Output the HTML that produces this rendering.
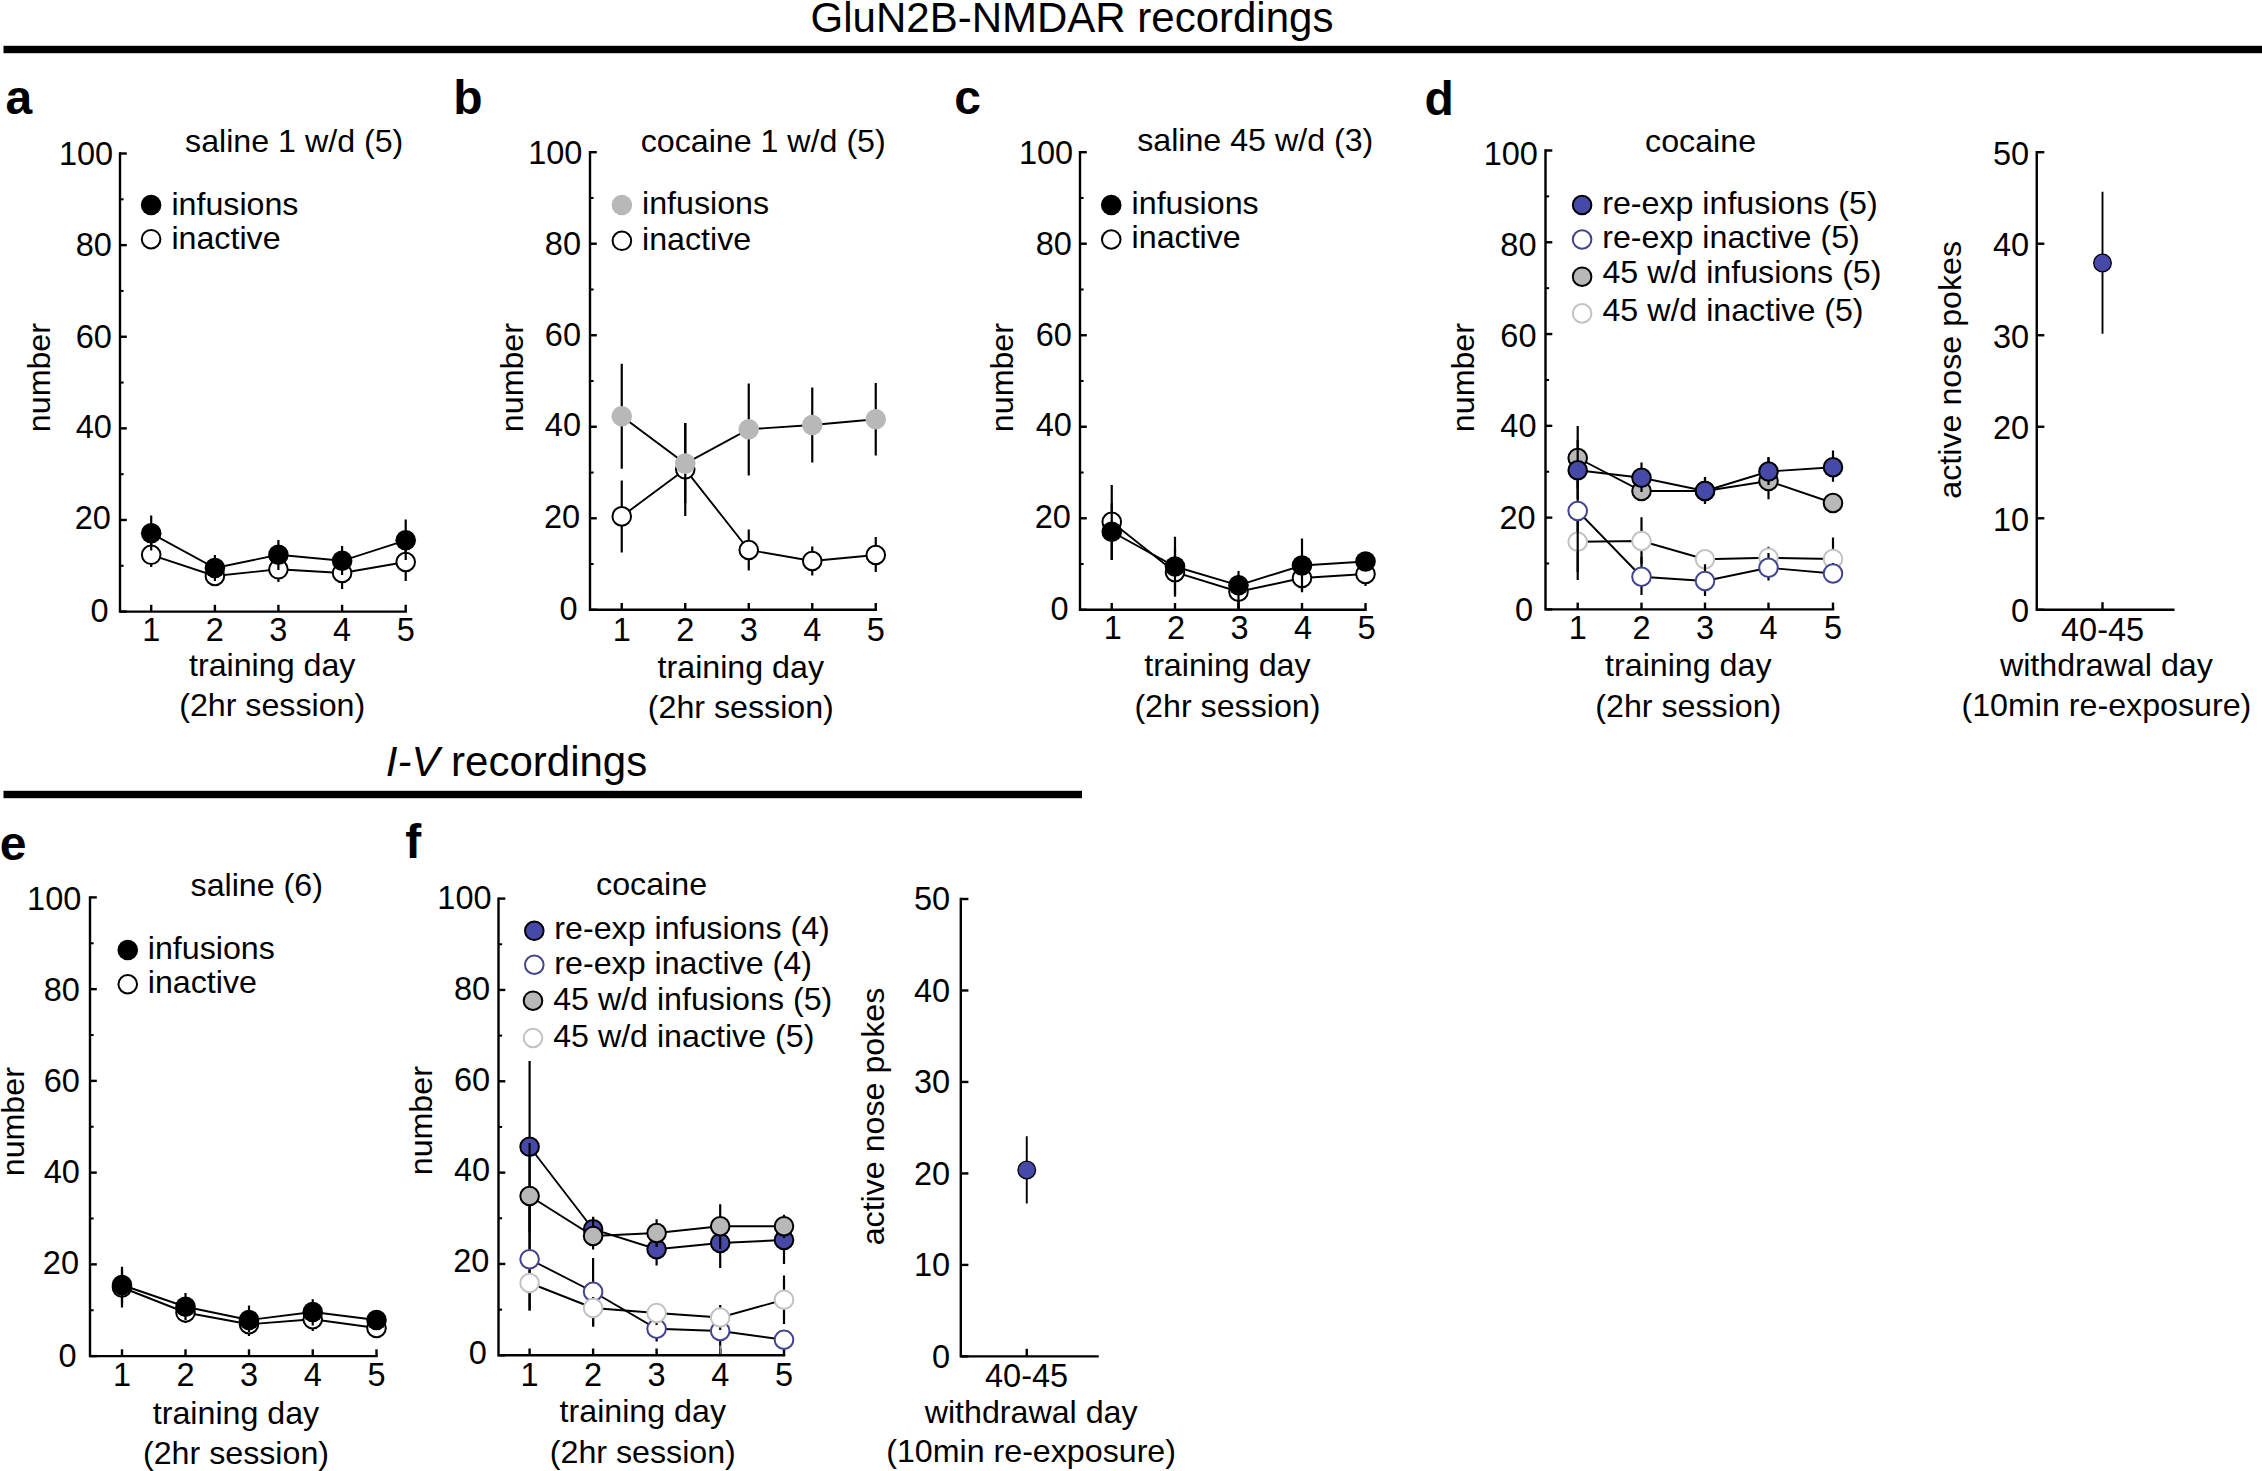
<!DOCTYPE html>
<html lang="en">
<head>
<meta charset="utf-8">
<title>Self-administration training data</title>
<style>
html,body{margin:0;padding:0;background:#fff;}
body{width:2262px;height:1471px;overflow:hidden;font-family:"Liberation Sans",Arial,Helvetica,sans-serif;}
svg{display:block;}
text{white-space:pre;}
</style>
</head>
<body>
<svg width="2262" height="1471" viewBox="0 0 2262 1471" font-family="'Liberation Sans', Arial, Helvetica, sans-serif" font-size="32.2" fill="#000">
<rect width="2262" height="1471" fill="#fff"/>
<text x="1072" y="31.5" text-anchor="middle" font-size="42">GluN2B-NMDAR recordings</text>
<rect x="3.5" y="45.8" width="2258.5" height="7.4" fill="#000"/>
<text x="516.5" y="776" font-size="42" text-anchor="middle"><tspan font-style="italic">I-V</tspan> recordings</text>
<rect x="3.5" y="790.8" width="1078.5" height="7.4" fill="#000"/>
<text x="5.6" y="114.3" font-size="48" font-weight="bold">a</text>
<text x="294.2" y="151.85" text-anchor="middle">saline 1 w/d (5)</text>
<text text-anchor="middle" transform="translate(50 377.6) rotate(-90)">number</text>
<path d="M120 152.3 V611.6 H406.9" fill="none" stroke="#000" stroke-width="2.4" stroke-linejoin="miter"/>
<line x1="120" y1="611.6" x2="126.8" y2="611.6" stroke="#000" stroke-width="2.4"/>
<text x="108.5" y="621.74" text-anchor="end" font-size="32.5">0</text>
<line x1="120" y1="519.98" x2="126.8" y2="519.98" stroke="#000" stroke-width="2.4"/>
<text x="110.9" y="529.32" text-anchor="end" font-size="32.5">20</text>
<line x1="120" y1="428.36" x2="126.8" y2="428.36" stroke="#000" stroke-width="2.4"/>
<text x="111.8" y="437.8" text-anchor="end" font-size="32.5">40</text>
<line x1="120" y1="336.74" x2="126.8" y2="336.74" stroke="#000" stroke-width="2.4"/>
<text x="111.8" y="347.57" text-anchor="end" font-size="32.5">60</text>
<line x1="120" y1="245.12" x2="126.8" y2="245.12" stroke="#000" stroke-width="2.4"/>
<text x="111.8" y="256.25" text-anchor="end" font-size="32.5">80</text>
<line x1="120" y1="153.5" x2="126.8" y2="153.5" stroke="#000" stroke-width="2.4"/>
<text x="113.2" y="165.23" text-anchor="end" font-size="32.5">100</text>
<line x1="120" y1="565.79" x2="123.6" y2="565.79" stroke="#000" stroke-width="2.04"/>
<line x1="120" y1="474.17" x2="123.6" y2="474.17" stroke="#000" stroke-width="2.04"/>
<line x1="120" y1="382.55" x2="123.6" y2="382.55" stroke="#000" stroke-width="2.04"/>
<line x1="120" y1="290.93" x2="123.6" y2="290.93" stroke="#000" stroke-width="2.04"/>
<line x1="120" y1="199.31" x2="123.6" y2="199.31" stroke="#000" stroke-width="2.04"/>
<line x1="151.2" y1="611.6" x2="151.2" y2="604.8" stroke="#000" stroke-width="2.4"/>
<line x1="214.9" y1="611.6" x2="214.9" y2="604.8" stroke="#000" stroke-width="2.4"/>
<line x1="278.4" y1="611.6" x2="278.4" y2="604.8" stroke="#000" stroke-width="2.4"/>
<line x1="342.1" y1="611.6" x2="342.1" y2="604.8" stroke="#000" stroke-width="2.4"/>
<line x1="405.7" y1="611.6" x2="405.7" y2="604.8" stroke="#000" stroke-width="2.4"/>
<text x="151.2" y="641" text-anchor="middle" font-size="32.5">1</text>
<text x="214.9" y="641" text-anchor="middle" font-size="32.5">2</text>
<text x="278.4" y="641" text-anchor="middle" font-size="32.5">3</text>
<text x="342.1" y="641" text-anchor="middle" font-size="32.5">4</text>
<text x="405.7" y="641" text-anchor="middle" font-size="32.5">5</text>
<polyline points="151.2,554.8 214.9,576 278.4,569.3 342.1,573 405.7,562" fill="none" stroke="#000" stroke-width="1.9"/>
<line x1="151.2" y1="538" x2="151.2" y2="567" stroke="#000" stroke-width="2.2"/>
<line x1="214.9" y1="560" x2="214.9" y2="583" stroke="#000" stroke-width="2.2"/>
<line x1="278.4" y1="553" x2="278.4" y2="582" stroke="#000" stroke-width="2.2"/>
<line x1="342.1" y1="556" x2="342.1" y2="589" stroke="#000" stroke-width="2.2"/>
<line x1="405.7" y1="545" x2="405.7" y2="581" stroke="#000" stroke-width="2.2"/>
<circle cx="151.2" cy="554.8" r="9.3" fill="#fff" stroke="#000" stroke-width="2"/>
<circle cx="214.9" cy="576" r="9.3" fill="#fff" stroke="#000" stroke-width="2"/>
<circle cx="278.4" cy="569.3" r="9.3" fill="#fff" stroke="#000" stroke-width="2"/>
<circle cx="342.1" cy="573" r="9.3" fill="#fff" stroke="#000" stroke-width="2"/>
<circle cx="405.7" cy="562" r="9.3" fill="#fff" stroke="#000" stroke-width="2"/>
<polyline points="151.2,533.3 214.9,568 278.4,554.8 342.1,560.8 405.7,540.3" fill="none" stroke="#000" stroke-width="1.9"/>
<line x1="151.2" y1="515.5" x2="151.2" y2="550.5" stroke="#000" stroke-width="2.2"/>
<line x1="214.9" y1="555" x2="214.9" y2="581" stroke="#000" stroke-width="2.2"/>
<line x1="278.4" y1="540" x2="278.4" y2="570" stroke="#000" stroke-width="2.2"/>
<line x1="342.1" y1="546" x2="342.1" y2="575" stroke="#000" stroke-width="2.2"/>
<line x1="405.7" y1="519.5" x2="405.7" y2="560" stroke="#000" stroke-width="2.2"/>
<circle cx="151.2" cy="533.3" r="10.3" fill="#000"/>
<circle cx="214.9" cy="568" r="10.3" fill="#000"/>
<circle cx="278.4" cy="554.8" r="10.3" fill="#000"/>
<circle cx="342.1" cy="560.8" r="10.3" fill="#000"/>
<circle cx="405.7" cy="540.3" r="10.3" fill="#000"/>
<circle cx="151.1" cy="205" r="10.3" fill="#000"/>
<text x="171.4" y="215">infusions</text>
<circle cx="151.1" cy="239.2" r="9.3" fill="#fff" stroke="#000" stroke-width="2"/>
<text x="171.4" y="249.3">inactive</text>
<text x="272.2" y="676.3" text-anchor="middle">training day</text>
<text x="272.2" y="715.5" text-anchor="middle">(2hr session)</text>
<text x="453.2" y="114.3" font-size="48" font-weight="bold">b</text>
<text x="763.2" y="151.7" text-anchor="middle">cocaine 1 w/d (5)</text>
<text text-anchor="middle" transform="translate(522.7 377.6) rotate(-90)">number</text>
<path d="M590 151 V609.8 H876.95" fill="none" stroke="#000" stroke-width="2.4" stroke-linejoin="miter"/>
<line x1="590" y1="609.8" x2="596.8" y2="609.8" stroke="#000" stroke-width="2.4"/>
<text x="577.7" y="619.93" text-anchor="end" font-size="32.5">0</text>
<line x1="590" y1="518.28" x2="596.8" y2="518.28" stroke="#000" stroke-width="2.4"/>
<text x="580.1" y="527.62" text-anchor="end" font-size="32.5">20</text>
<line x1="590" y1="426.76" x2="596.8" y2="426.76" stroke="#000" stroke-width="2.4"/>
<text x="581" y="436.19" text-anchor="end" font-size="32.5">40</text>
<line x1="590" y1="335.24" x2="596.8" y2="335.24" stroke="#000" stroke-width="2.4"/>
<text x="581" y="346.07" text-anchor="end" font-size="32.5">60</text>
<line x1="590" y1="243.72" x2="596.8" y2="243.72" stroke="#000" stroke-width="2.4"/>
<text x="581" y="254.85" text-anchor="end" font-size="32.5">80</text>
<line x1="590" y1="152.2" x2="596.8" y2="152.2" stroke="#000" stroke-width="2.4"/>
<text x="582.4" y="163.93" text-anchor="end" font-size="32.5">100</text>
<line x1="590" y1="564.04" x2="593.6" y2="564.04" stroke="#000" stroke-width="2.04"/>
<line x1="590" y1="472.52" x2="593.6" y2="472.52" stroke="#000" stroke-width="2.04"/>
<line x1="590" y1="381" x2="593.6" y2="381" stroke="#000" stroke-width="2.04"/>
<line x1="590" y1="289.48" x2="593.6" y2="289.48" stroke="#000" stroke-width="2.04"/>
<line x1="590" y1="197.96" x2="593.6" y2="197.96" stroke="#000" stroke-width="2.04"/>
<line x1="621.75" y1="609.8" x2="621.75" y2="603" stroke="#000" stroke-width="2.4"/>
<line x1="685.25" y1="609.8" x2="685.25" y2="603" stroke="#000" stroke-width="2.4"/>
<line x1="748.75" y1="609.8" x2="748.75" y2="603" stroke="#000" stroke-width="2.4"/>
<line x1="812.25" y1="609.8" x2="812.25" y2="603" stroke="#000" stroke-width="2.4"/>
<line x1="875.75" y1="609.8" x2="875.75" y2="603" stroke="#000" stroke-width="2.4"/>
<text x="621.75" y="640.6" text-anchor="middle" font-size="32.5">1</text>
<text x="685.25" y="640.6" text-anchor="middle" font-size="32.5">2</text>
<text x="748.75" y="640.6" text-anchor="middle" font-size="32.5">3</text>
<text x="812.25" y="640.6" text-anchor="middle" font-size="32.5">4</text>
<text x="875.75" y="640.6" text-anchor="middle" font-size="32.5">5</text>
<polyline points="621.75,516.4 685.25,469.3 748.75,550 812.25,561 875.75,555" fill="none" stroke="#000" stroke-width="1.9"/>
<line x1="621.75" y1="480.5" x2="621.75" y2="552.5" stroke="#000" stroke-width="2.2"/>
<line x1="685.25" y1="423" x2="685.25" y2="516" stroke="#000" stroke-width="2.2"/>
<line x1="748.75" y1="529.5" x2="748.75" y2="570.5" stroke="#000" stroke-width="2.2"/>
<line x1="812.25" y1="546.5" x2="812.25" y2="575.5" stroke="#000" stroke-width="2.2"/>
<line x1="875.75" y1="537" x2="875.75" y2="572" stroke="#000" stroke-width="2.2"/>
<circle cx="621.75" cy="516.4" r="9.3" fill="#fff" stroke="#000" stroke-width="2"/>
<circle cx="685.25" cy="469.3" r="9.3" fill="#fff" stroke="#000" stroke-width="2"/>
<circle cx="748.75" cy="550" r="9.3" fill="#fff" stroke="#000" stroke-width="2"/>
<circle cx="812.25" cy="561" r="9.3" fill="#fff" stroke="#000" stroke-width="2"/>
<circle cx="875.75" cy="555" r="9.3" fill="#fff" stroke="#000" stroke-width="2"/>
<polyline points="621.75,416.25 685.25,463.6 748.75,429.25 812.25,425 875.75,419.25" fill="none" stroke="#000" stroke-width="1.9"/>
<line x1="621.75" y1="363.75" x2="621.75" y2="468.75" stroke="#000" stroke-width="2.2"/>
<line x1="685.25" y1="423" x2="685.25" y2="503" stroke="#000" stroke-width="2.2"/>
<line x1="748.75" y1="383.5" x2="748.75" y2="475.5" stroke="#000" stroke-width="2.2"/>
<line x1="812.25" y1="387.5" x2="812.25" y2="462.5" stroke="#000" stroke-width="2.2"/>
<line x1="875.75" y1="383" x2="875.75" y2="455.5" stroke="#000" stroke-width="2.2"/>
<circle cx="621.75" cy="416.25" r="10.3" fill="#b8b8b8"/>
<circle cx="685.25" cy="463.6" r="10.3" fill="#b8b8b8"/>
<circle cx="748.75" cy="429.25" r="10.3" fill="#b8b8b8"/>
<circle cx="812.25" cy="425" r="10.3" fill="#b8b8b8"/>
<circle cx="875.75" cy="419.25" r="10.3" fill="#b8b8b8"/>
<circle cx="621.9" cy="205" r="10.3" fill="#b8b8b8"/>
<text x="642" y="214.3">infusions</text>
<circle cx="621.9" cy="240.8" r="9.3" fill="#fff" stroke="#000" stroke-width="2"/>
<text x="642" y="250.2">inactive</text>
<text x="740.8" y="678" text-anchor="middle">training day</text>
<text x="740.8" y="717.8" text-anchor="middle">(2hr session)</text>
<text x="954.2" y="114.3" font-size="48" font-weight="bold">c</text>
<text x="1255.25" y="151.25" text-anchor="middle">saline 45 w/d (3)</text>
<text text-anchor="middle" transform="translate(1012.7 377.6) rotate(-90)">number</text>
<path d="M1080 151 V609.8 H1366.7" fill="none" stroke="#000" stroke-width="2.4" stroke-linejoin="miter"/>
<line x1="1080" y1="609.8" x2="1086.8" y2="609.8" stroke="#000" stroke-width="2.4"/>
<text x="1068.5" y="619.93" text-anchor="end" font-size="32.5">0</text>
<line x1="1080" y1="518.28" x2="1086.8" y2="518.28" stroke="#000" stroke-width="2.4"/>
<text x="1070.9" y="527.62" text-anchor="end" font-size="32.5">20</text>
<line x1="1080" y1="426.76" x2="1086.8" y2="426.76" stroke="#000" stroke-width="2.4"/>
<text x="1071.8" y="436.19" text-anchor="end" font-size="32.5">40</text>
<line x1="1080" y1="335.24" x2="1086.8" y2="335.24" stroke="#000" stroke-width="2.4"/>
<text x="1071.8" y="346.07" text-anchor="end" font-size="32.5">60</text>
<line x1="1080" y1="243.72" x2="1086.8" y2="243.72" stroke="#000" stroke-width="2.4"/>
<text x="1071.8" y="254.85" text-anchor="end" font-size="32.5">80</text>
<line x1="1080" y1="152.2" x2="1086.8" y2="152.2" stroke="#000" stroke-width="2.4"/>
<text x="1073.2" y="163.93" text-anchor="end" font-size="32.5">100</text>
<line x1="1080" y1="564.04" x2="1083.6" y2="564.04" stroke="#000" stroke-width="2.04"/>
<line x1="1080" y1="472.52" x2="1083.6" y2="472.52" stroke="#000" stroke-width="2.04"/>
<line x1="1080" y1="381" x2="1083.6" y2="381" stroke="#000" stroke-width="2.04"/>
<line x1="1080" y1="289.48" x2="1083.6" y2="289.48" stroke="#000" stroke-width="2.04"/>
<line x1="1080" y1="197.96" x2="1083.6" y2="197.96" stroke="#000" stroke-width="2.04"/>
<line x1="1111.75" y1="609.8" x2="1111.75" y2="603" stroke="#000" stroke-width="2.4"/>
<line x1="1175" y1="609.8" x2="1175" y2="603" stroke="#000" stroke-width="2.4"/>
<line x1="1238.5" y1="609.8" x2="1238.5" y2="603" stroke="#000" stroke-width="2.4"/>
<line x1="1302" y1="609.8" x2="1302" y2="603" stroke="#000" stroke-width="2.4"/>
<line x1="1365.5" y1="609.8" x2="1365.5" y2="603" stroke="#000" stroke-width="2.4"/>
<text x="1112.85" y="639.2" text-anchor="middle" font-size="32.5">1</text>
<text x="1176.1" y="639.2" text-anchor="middle" font-size="32.5">2</text>
<text x="1239.6" y="639.2" text-anchor="middle" font-size="32.5">3</text>
<text x="1303.1" y="639.2" text-anchor="middle" font-size="32.5">4</text>
<text x="1366.6" y="639.2" text-anchor="middle" font-size="32.5">5</text>
<polyline points="1111.75,521.9 1175,572.25 1238.5,591.75 1302,578 1365.5,574" fill="none" stroke="#000" stroke-width="1.9"/>
<line x1="1111.75" y1="485" x2="1111.75" y2="560" stroke="#000" stroke-width="2.2"/>
<line x1="1175" y1="548" x2="1175" y2="596.7" stroke="#000" stroke-width="2.2"/>
<line x1="1238.5" y1="575" x2="1238.5" y2="608" stroke="#000" stroke-width="2.2"/>
<line x1="1302" y1="562" x2="1302" y2="592.25" stroke="#000" stroke-width="2.2"/>
<line x1="1365.5" y1="565" x2="1365.5" y2="586" stroke="#000" stroke-width="2.2"/>
<circle cx="1111.75" cy="521.9" r="9.3" fill="#fff" stroke="#000" stroke-width="2"/>
<circle cx="1175" cy="572.25" r="9.3" fill="#fff" stroke="#000" stroke-width="2"/>
<circle cx="1238.5" cy="591.75" r="9.3" fill="#fff" stroke="#000" stroke-width="2"/>
<circle cx="1302" cy="578" r="9.3" fill="#fff" stroke="#000" stroke-width="2"/>
<circle cx="1365.5" cy="574" r="9.3" fill="#fff" stroke="#000" stroke-width="2"/>
<polyline points="1111.75,531.75 1175,566.5 1238.5,585.3 1302,565.5 1365.5,561.5" fill="none" stroke="#000" stroke-width="1.9"/>
<line x1="1111.75" y1="503" x2="1111.75" y2="560" stroke="#000" stroke-width="2.2"/>
<line x1="1175" y1="536.75" x2="1175" y2="595" stroke="#000" stroke-width="2.2"/>
<line x1="1238.5" y1="571" x2="1238.5" y2="609" stroke="#000" stroke-width="2.2"/>
<line x1="1302" y1="538.5" x2="1302" y2="591.5" stroke="#000" stroke-width="2.2"/>
<line x1="1365.5" y1="552" x2="1365.5" y2="569" stroke="#000" stroke-width="2.2"/>
<circle cx="1111.75" cy="531.75" r="10.3" fill="#000"/>
<circle cx="1175" cy="566.5" r="10.3" fill="#000"/>
<circle cx="1238.5" cy="585.3" r="10.3" fill="#000"/>
<circle cx="1302" cy="565.5" r="10.3" fill="#000"/>
<circle cx="1365.5" cy="561.5" r="10.3" fill="#000"/>
<circle cx="1111.25" cy="205" r="10.3" fill="#000"/>
<text x="1131.6" y="214">infusions</text>
<circle cx="1111.25" cy="239.5" r="9.3" fill="#fff" stroke="#000" stroke-width="2"/>
<text x="1131.6" y="248.1">inactive</text>
<text x="1227.4" y="675.5" text-anchor="middle">training day</text>
<text x="1227.4" y="716.7" text-anchor="middle">(2hr session)</text>
<text x="1424.4" y="114.5" font-size="48" font-weight="bold">d</text>
<text x="1700.6" y="152.1" text-anchor="middle">cocaine</text>
<text text-anchor="middle" transform="translate(1474.2 377.6) rotate(-90)">number</text>
<path d="M1545.5 149.3 V609.4 H1834.2" fill="none" stroke="#000" stroke-width="2.4" stroke-linejoin="miter"/>
<line x1="1545.5" y1="609.4" x2="1552.3" y2="609.4" stroke="#000" stroke-width="2.4"/>
<text x="1533.2" y="621.24" text-anchor="end" font-size="32.5">0</text>
<line x1="1545.5" y1="517.62" x2="1552.3" y2="517.62" stroke="#000" stroke-width="2.4"/>
<text x="1535.6" y="528.82" text-anchor="end" font-size="32.5">20</text>
<line x1="1545.5" y1="425.84" x2="1552.3" y2="425.84" stroke="#000" stroke-width="2.4"/>
<text x="1536.5" y="437.3" text-anchor="end" font-size="32.5">40</text>
<line x1="1545.5" y1="334.06" x2="1552.3" y2="334.06" stroke="#000" stroke-width="2.4"/>
<text x="1536.5" y="347.07" text-anchor="end" font-size="32.5">60</text>
<line x1="1545.5" y1="242.28" x2="1552.3" y2="242.28" stroke="#000" stroke-width="2.4"/>
<text x="1536.5" y="255.75" text-anchor="end" font-size="32.5">80</text>
<line x1="1545.5" y1="150.5" x2="1552.3" y2="150.5" stroke="#000" stroke-width="2.4"/>
<text x="1537.9" y="164.73" text-anchor="end" font-size="32.5">100</text>
<line x1="1545.5" y1="563.51" x2="1549.1" y2="563.51" stroke="#000" stroke-width="2.04"/>
<line x1="1545.5" y1="471.73" x2="1549.1" y2="471.73" stroke="#000" stroke-width="2.04"/>
<line x1="1545.5" y1="379.95" x2="1549.1" y2="379.95" stroke="#000" stroke-width="2.04"/>
<line x1="1545.5" y1="288.17" x2="1549.1" y2="288.17" stroke="#000" stroke-width="2.04"/>
<line x1="1545.5" y1="196.39" x2="1549.1" y2="196.39" stroke="#000" stroke-width="2.04"/>
<line x1="1577.7" y1="609.4" x2="1577.7" y2="602.6" stroke="#000" stroke-width="2.4"/>
<line x1="1641.5" y1="609.4" x2="1641.5" y2="602.6" stroke="#000" stroke-width="2.4"/>
<line x1="1705" y1="609.4" x2="1705" y2="602.6" stroke="#000" stroke-width="2.4"/>
<line x1="1768.5" y1="609.4" x2="1768.5" y2="602.6" stroke="#000" stroke-width="2.4"/>
<line x1="1833" y1="609.4" x2="1833" y2="602.6" stroke="#000" stroke-width="2.4"/>
<text x="1577.7" y="639.2" text-anchor="middle" font-size="32.5">1</text>
<text x="1641.5" y="639.2" text-anchor="middle" font-size="32.5">2</text>
<text x="1705" y="639.2" text-anchor="middle" font-size="32.5">3</text>
<text x="1768.5" y="639.2" text-anchor="middle" font-size="32.5">4</text>
<text x="1833" y="639.2" text-anchor="middle" font-size="32.5">5</text>
<polyline points="1577.7,458 1641.5,491 1705,491 1768.5,481 1833,503" fill="none" stroke="#000" stroke-width="1.9"/>
<line x1="1577.7" y1="426" x2="1577.7" y2="489" stroke="#000" stroke-width="2.2"/>
<line x1="1641.5" y1="470" x2="1641.5" y2="500" stroke="#000" stroke-width="2.2"/>
<line x1="1705" y1="477" x2="1705" y2="504" stroke="#000" stroke-width="2.2"/>
<line x1="1768.5" y1="457.25" x2="1768.5" y2="499.25" stroke="#000" stroke-width="2.2"/>
<circle cx="1577.7" cy="458" r="9.3" fill="#b8b8b8" stroke="#000" stroke-width="2"/>
<circle cx="1641.5" cy="491" r="9.3" fill="#b8b8b8" stroke="#000" stroke-width="2"/>
<circle cx="1705" cy="491" r="9.3" fill="#b8b8b8" stroke="#000" stroke-width="2"/>
<circle cx="1768.5" cy="481" r="9.3" fill="#b8b8b8" stroke="#000" stroke-width="2"/>
<circle cx="1833" cy="503" r="9.3" fill="#b8b8b8" stroke="#000" stroke-width="2"/>
<polyline points="1577.7,541.75 1641.5,541 1705,559.25 1768.5,557.75 1833,559" fill="none" stroke="#000" stroke-width="1.9"/>
<line x1="1577.7" y1="510" x2="1577.7" y2="572" stroke="#000" stroke-width="2.2"/>
<line x1="1641.5" y1="517.25" x2="1641.5" y2="564" stroke="#000" stroke-width="2.2"/>
<line x1="1705" y1="550" x2="1705" y2="570" stroke="#000" stroke-width="2.2"/>
<line x1="1768.5" y1="546.75" x2="1768.5" y2="568" stroke="#000" stroke-width="2.2"/>
<line x1="1833" y1="537.5" x2="1833" y2="580" stroke="#000" stroke-width="2.2"/>
<circle cx="1577.7" cy="541.75" r="9.3" fill="#fff" stroke="#c2c2c2" stroke-width="2"/>
<circle cx="1641.5" cy="541" r="9.3" fill="#fff" stroke="#c2c2c2" stroke-width="2"/>
<circle cx="1705" cy="559.25" r="9.3" fill="#fff" stroke="#c2c2c2" stroke-width="2"/>
<circle cx="1768.5" cy="557.75" r="9.3" fill="#fff" stroke="#c2c2c2" stroke-width="2"/>
<circle cx="1833" cy="559" r="9.3" fill="#fff" stroke="#c2c2c2" stroke-width="2"/>
<polyline points="1577.7,470.25 1641.5,477.75 1705,491 1768.5,471.5 1833,467.25" fill="none" stroke="#000" stroke-width="1.9"/>
<line x1="1577.7" y1="440" x2="1577.7" y2="499" stroke="#000" stroke-width="2.2"/>
<line x1="1641.5" y1="462.5" x2="1641.5" y2="492" stroke="#000" stroke-width="2.2"/>
<line x1="1705" y1="477.25" x2="1705" y2="503" stroke="#000" stroke-width="2.2"/>
<line x1="1768.5" y1="457.25" x2="1768.5" y2="485" stroke="#000" stroke-width="2.2"/>
<line x1="1833" y1="450.5" x2="1833" y2="481.75" stroke="#000" stroke-width="2.2"/>
<circle cx="1577.7" cy="470.25" r="9.3" fill="#4649a8" stroke="#000" stroke-width="2"/>
<circle cx="1641.5" cy="477.75" r="9.3" fill="#4649a8" stroke="#000" stroke-width="2"/>
<circle cx="1705" cy="491" r="9.3" fill="#4649a8" stroke="#000" stroke-width="2"/>
<circle cx="1768.5" cy="471.5" r="9.3" fill="#4649a8" stroke="#000" stroke-width="2"/>
<circle cx="1833" cy="467.25" r="9.3" fill="#4649a8" stroke="#000" stroke-width="2"/>
<polyline points="1577.7,511 1641.5,576.75 1705,581 1768.5,567.75 1833,573.5" fill="none" stroke="#000" stroke-width="1.9"/>
<line x1="1577.7" y1="481" x2="1577.7" y2="580" stroke="#000" stroke-width="2.2"/>
<line x1="1641.5" y1="557" x2="1641.5" y2="595" stroke="#000" stroke-width="2.2"/>
<line x1="1705" y1="564.25" x2="1705" y2="596" stroke="#000" stroke-width="2.2"/>
<line x1="1768.5" y1="553" x2="1768.5" y2="580.5" stroke="#000" stroke-width="2.2"/>
<line x1="1833" y1="563" x2="1833" y2="583" stroke="#000" stroke-width="2.2"/>
<circle cx="1577.7" cy="511" r="9.3" fill="#fff" stroke="#41438f" stroke-width="2"/>
<circle cx="1641.5" cy="576.75" r="9.3" fill="#fff" stroke="#41438f" stroke-width="2"/>
<circle cx="1705" cy="581" r="9.3" fill="#fff" stroke="#41438f" stroke-width="2"/>
<circle cx="1768.5" cy="567.75" r="9.3" fill="#fff" stroke="#41438f" stroke-width="2"/>
<circle cx="1833" cy="573.5" r="9.3" fill="#fff" stroke="#41438f" stroke-width="2"/>
<circle cx="1582.1" cy="205" r="9.3" fill="#4649a8" stroke="#000" stroke-width="2"/>
<text x="1602.2" y="213.9">re-exp infusions (5)</text>
<circle cx="1582.1" cy="239.5" r="9.3" fill="#fff" stroke="#41438f" stroke-width="2"/>
<text x="1602.2" y="247.9">re-exp inactive (5)</text>
<circle cx="1582.1" cy="276.7" r="9.3" fill="#b8b8b8" stroke="#000" stroke-width="2"/>
<text x="1602.4" y="282.9">45 w/d infusions (5)</text>
<circle cx="1582.1" cy="313.4" r="9.3" fill="#fff" stroke="#c2c2c2" stroke-width="2"/>
<text x="1602.4" y="320.9">45 w/d inactive (5)</text>
<text x="1688.3" y="675.5" text-anchor="middle">training day</text>
<text x="1688.3" y="716.7" text-anchor="middle">(2hr session)</text>
<text text-anchor="middle" transform="translate(1960.5 369.8) rotate(-90)">active nose pokes</text>
<path d="M2036.75 151 V609.8 H2174.5" fill="none" stroke="#000" stroke-width="2.4" stroke-linejoin="miter"/>
<line x1="2036.75" y1="609.8" x2="2044.35" y2="609.8" stroke="#000" stroke-width="2.4"/>
<text x="2029.2" y="622.13" text-anchor="end" font-size="32.5">0</text>
<line x1="2036.75" y1="518.28" x2="2044.35" y2="518.28" stroke="#000" stroke-width="2.4"/>
<text x="2029.2" y="530.62" text-anchor="end" font-size="32.5">10</text>
<line x1="2036.75" y1="426.76" x2="2044.35" y2="426.76" stroke="#000" stroke-width="2.4"/>
<text x="2029.2" y="439.1" text-anchor="end" font-size="32.5">20</text>
<line x1="2036.75" y1="335.24" x2="2044.35" y2="335.24" stroke="#000" stroke-width="2.4"/>
<text x="2029.2" y="347.57" text-anchor="end" font-size="32.5">30</text>
<line x1="2036.75" y1="243.72" x2="2044.35" y2="243.72" stroke="#000" stroke-width="2.4"/>
<text x="2029.2" y="256.06" text-anchor="end" font-size="32.5">40</text>
<line x1="2036.75" y1="152.2" x2="2044.35" y2="152.2" stroke="#000" stroke-width="2.4"/>
<text x="2029.2" y="164.53" text-anchor="end" font-size="32.5">50</text>
<line x1="2102.5" y1="609.8" x2="2102.5" y2="602.2" stroke="#000" stroke-width="2.4"/>
<text x="2102.6" y="641" text-anchor="middle" font-size="32.5">40-45</text>
<line x1="2102.5" y1="191.75" x2="2102.5" y2="333.75" stroke="#000" stroke-width="1.9"/>
<circle cx="2102.5" cy="263" r="8.8" fill="#4649a8" stroke="#000" stroke-width="1.3"/>
<text x="2106.4" y="675.8" text-anchor="middle">withdrawal day</text>
<text x="2106.4" y="715.6" text-anchor="middle">(10min re-exposure)</text>
<text x="-0.2" y="860" font-size="48" font-weight="bold">e</text>
<text x="256.75" y="896" text-anchor="middle">saline (6)</text>
<text text-anchor="middle" transform="translate(23.9 1121.7) rotate(-90)">number</text>
<path d="M90 896.2 V1356.1 H377.7" fill="none" stroke="#000" stroke-width="2.4" stroke-linejoin="miter"/>
<line x1="90" y1="1356.1" x2="96.8" y2="1356.1" stroke="#000" stroke-width="2.4"/>
<text x="76.6" y="1366.73" text-anchor="end" font-size="32.5">0</text>
<line x1="90" y1="1264.36" x2="96.8" y2="1264.36" stroke="#000" stroke-width="2.4"/>
<text x="79" y="1274.25" text-anchor="end" font-size="32.5">20</text>
<line x1="90" y1="1172.62" x2="96.8" y2="1172.62" stroke="#000" stroke-width="2.4"/>
<text x="79.9" y="1182.67" text-anchor="end" font-size="32.5">40</text>
<line x1="90" y1="1080.88" x2="96.8" y2="1080.88" stroke="#000" stroke-width="2.4"/>
<text x="79.9" y="1092.39" text-anchor="end" font-size="32.5">60</text>
<line x1="90" y1="989.14" x2="96.8" y2="989.14" stroke="#000" stroke-width="2.4"/>
<text x="79.9" y="1001.02" text-anchor="end" font-size="32.5">80</text>
<line x1="90" y1="897.4" x2="96.8" y2="897.4" stroke="#000" stroke-width="2.4"/>
<text x="81.3" y="909.94" text-anchor="end" font-size="32.5">100</text>
<line x1="90" y1="1310.23" x2="93.6" y2="1310.23" stroke="#000" stroke-width="2.04"/>
<line x1="90" y1="1218.49" x2="93.6" y2="1218.49" stroke="#000" stroke-width="2.04"/>
<line x1="90" y1="1126.75" x2="93.6" y2="1126.75" stroke="#000" stroke-width="2.04"/>
<line x1="90" y1="1035.01" x2="93.6" y2="1035.01" stroke="#000" stroke-width="2.04"/>
<line x1="90" y1="943.27" x2="93.6" y2="943.27" stroke="#000" stroke-width="2.04"/>
<line x1="122" y1="1356.1" x2="122" y2="1349.3" stroke="#000" stroke-width="2.4"/>
<line x1="185.5" y1="1356.1" x2="185.5" y2="1349.3" stroke="#000" stroke-width="2.4"/>
<line x1="249" y1="1356.1" x2="249" y2="1349.3" stroke="#000" stroke-width="2.4"/>
<line x1="312.75" y1="1356.1" x2="312.75" y2="1349.3" stroke="#000" stroke-width="2.4"/>
<line x1="376.5" y1="1356.1" x2="376.5" y2="1349.3" stroke="#000" stroke-width="2.4"/>
<text x="122" y="1386" text-anchor="middle" font-size="32.5">1</text>
<text x="185.5" y="1386" text-anchor="middle" font-size="32.5">2</text>
<text x="249" y="1386" text-anchor="middle" font-size="32.5">3</text>
<text x="312.75" y="1386" text-anchor="middle" font-size="32.5">4</text>
<text x="376.5" y="1386" text-anchor="middle" font-size="32.5">5</text>
<polyline points="122,1287.5 185.5,1312.5 249,1324.25 312.75,1319.25 376.5,1328" fill="none" stroke="#000" stroke-width="1.9"/>
<line x1="122" y1="1270" x2="122" y2="1307.5" stroke="#000" stroke-width="2.2"/>
<line x1="185.5" y1="1298" x2="185.5" y2="1323" stroke="#000" stroke-width="2.2"/>
<line x1="249" y1="1310" x2="249" y2="1336" stroke="#000" stroke-width="2.2"/>
<line x1="312.75" y1="1306" x2="312.75" y2="1331" stroke="#000" stroke-width="2.2"/>
<circle cx="122" cy="1287.5" r="9.3" fill="#fff" stroke="#000" stroke-width="2"/>
<circle cx="185.5" cy="1312.5" r="9.3" fill="#fff" stroke="#000" stroke-width="2"/>
<circle cx="249" cy="1324.25" r="9.3" fill="#fff" stroke="#000" stroke-width="2"/>
<circle cx="312.75" cy="1319.25" r="9.3" fill="#fff" stroke="#000" stroke-width="2"/>
<circle cx="376.5" cy="1328" r="9.3" fill="#fff" stroke="#000" stroke-width="2"/>
<polyline points="122,1285 185.5,1306.75 249,1320 312.75,1312 376.5,1320" fill="none" stroke="#000" stroke-width="1.9"/>
<line x1="122" y1="1266.75" x2="122" y2="1304" stroke="#000" stroke-width="2.2"/>
<line x1="185.5" y1="1293" x2="185.5" y2="1320" stroke="#000" stroke-width="2.2"/>
<line x1="249" y1="1305.5" x2="249" y2="1332" stroke="#000" stroke-width="2.2"/>
<line x1="312.75" y1="1299.25" x2="312.75" y2="1325.5" stroke="#000" stroke-width="2.2"/>
<circle cx="122" cy="1285" r="10.3" fill="#000"/>
<circle cx="185.5" cy="1306.75" r="10.3" fill="#000"/>
<circle cx="249" cy="1320" r="10.3" fill="#000"/>
<circle cx="312.75" cy="1312" r="10.3" fill="#000"/>
<circle cx="376.5" cy="1320" r="10.3" fill="#000"/>
<circle cx="127.75" cy="950" r="10.3" fill="#000"/>
<text x="147.8" y="958.75">infusions</text>
<circle cx="127.75" cy="984.25" r="9.3" fill="#fff" stroke="#000" stroke-width="2"/>
<text x="147.8" y="993">inactive</text>
<text x="236" y="1423.9" text-anchor="middle">training day</text>
<text x="236" y="1464" text-anchor="middle">(2hr session)</text>
<text x="405.2" y="857.8" font-size="48" font-weight="bold">f</text>
<text x="651.6" y="894.8" text-anchor="middle">cocaine</text>
<text text-anchor="middle" transform="translate(431.5 1120.7) rotate(-90)">number</text>
<path d="M498.5 897.4 V1355.3 H785.2" fill="none" stroke="#000" stroke-width="2.4" stroke-linejoin="miter"/>
<line x1="498.5" y1="1355.3" x2="505.3" y2="1355.3" stroke="#000" stroke-width="2.4"/>
<text x="486.9" y="1364.04" text-anchor="end" font-size="32.5">0</text>
<line x1="498.5" y1="1263.96" x2="505.3" y2="1263.96" stroke="#000" stroke-width="2.4"/>
<text x="489.3" y="1271.9" text-anchor="end" font-size="32.5">20</text>
<line x1="498.5" y1="1172.62" x2="505.3" y2="1172.62" stroke="#000" stroke-width="2.4"/>
<text x="490.2" y="1180.65" text-anchor="end" font-size="32.5">40</text>
<line x1="498.5" y1="1081.28" x2="505.3" y2="1081.28" stroke="#000" stroke-width="2.4"/>
<text x="490.2" y="1090.72" text-anchor="end" font-size="32.5">60</text>
<line x1="498.5" y1="989.94" x2="505.3" y2="989.94" stroke="#000" stroke-width="2.4"/>
<text x="490.2" y="999.68" text-anchor="end" font-size="32.5">80</text>
<line x1="498.5" y1="898.6" x2="505.3" y2="898.6" stroke="#000" stroke-width="2.4"/>
<text x="491.6" y="908.94" text-anchor="end" font-size="32.5">100</text>
<line x1="498.5" y1="1309.63" x2="502.1" y2="1309.63" stroke="#000" stroke-width="2.04"/>
<line x1="498.5" y1="1218.29" x2="502.1" y2="1218.29" stroke="#000" stroke-width="2.04"/>
<line x1="498.5" y1="1126.95" x2="502.1" y2="1126.95" stroke="#000" stroke-width="2.04"/>
<line x1="498.5" y1="1035.61" x2="502.1" y2="1035.61" stroke="#000" stroke-width="2.04"/>
<line x1="498.5" y1="944.27" x2="502.1" y2="944.27" stroke="#000" stroke-width="2.04"/>
<line x1="529.6" y1="1355.3" x2="529.6" y2="1348.5" stroke="#000" stroke-width="2.4"/>
<line x1="593.1" y1="1355.3" x2="593.1" y2="1348.5" stroke="#000" stroke-width="2.4"/>
<line x1="656.6" y1="1355.3" x2="656.6" y2="1348.5" stroke="#000" stroke-width="2.4"/>
<line x1="720.2" y1="1355.3" x2="720.2" y2="1348.5" stroke="#000" stroke-width="2.4"/>
<line x1="784" y1="1355.3" x2="784" y2="1348.5" stroke="#000" stroke-width="2.4"/>
<text x="529.6" y="1385.75" text-anchor="middle" font-size="32.5">1</text>
<text x="593.1" y="1385.75" text-anchor="middle" font-size="32.5">2</text>
<text x="656.6" y="1385.75" text-anchor="middle" font-size="32.5">3</text>
<text x="720.2" y="1385.75" text-anchor="middle" font-size="32.5">4</text>
<text x="784" y="1385.75" text-anchor="middle" font-size="32.5">5</text>
<polyline points="529.6,1146.75 593.1,1229.25 656.6,1249.25 720.2,1243 784,1240" fill="none" stroke="#000" stroke-width="1.9"/>
<line x1="529.6" y1="1061" x2="529.6" y2="1232.5" stroke="#000" stroke-width="2.2"/>
<line x1="593.1" y1="1217" x2="593.1" y2="1242" stroke="#000" stroke-width="2.2"/>
<line x1="656.6" y1="1233" x2="656.6" y2="1265.5" stroke="#000" stroke-width="2.2"/>
<line x1="720.2" y1="1218" x2="720.2" y2="1268" stroke="#000" stroke-width="2.2"/>
<line x1="784" y1="1222" x2="784" y2="1264" stroke="#000" stroke-width="2.2"/>
<circle cx="529.6" cy="1146.75" r="9.3" fill="#4649a8" stroke="#000" stroke-width="2"/>
<circle cx="593.1" cy="1229.25" r="9.3" fill="#4649a8" stroke="#000" stroke-width="2"/>
<circle cx="656.6" cy="1249.25" r="9.3" fill="#4649a8" stroke="#000" stroke-width="2"/>
<circle cx="720.2" cy="1243" r="9.3" fill="#4649a8" stroke="#000" stroke-width="2"/>
<circle cx="784" cy="1240" r="9.3" fill="#4649a8" stroke="#000" stroke-width="2"/>
<polyline points="529.6,1259.25 593.1,1291.75 656.6,1328.75 720.2,1331 784,1339.75" fill="none" stroke="#000" stroke-width="1.9"/>
<line x1="529.6" y1="1207" x2="529.6" y2="1310.5" stroke="#000" stroke-width="2.2"/>
<line x1="593.1" y1="1258" x2="593.1" y2="1326" stroke="#000" stroke-width="2.2"/>
<line x1="656.6" y1="1312" x2="656.6" y2="1341.5" stroke="#000" stroke-width="2.2"/>
<line x1="720.2" y1="1313" x2="720.2" y2="1354" stroke="#000" stroke-width="2.2"/>
<line x1="784" y1="1330" x2="784" y2="1349" stroke="#000" stroke-width="2.2"/>
<circle cx="529.6" cy="1259.25" r="9.3" fill="#fff" stroke="#41438f" stroke-width="2"/>
<circle cx="593.1" cy="1291.75" r="9.3" fill="#fff" stroke="#41438f" stroke-width="2"/>
<circle cx="656.6" cy="1328.75" r="9.3" fill="#fff" stroke="#41438f" stroke-width="2"/>
<circle cx="720.2" cy="1331" r="9.3" fill="#fff" stroke="#41438f" stroke-width="2"/>
<circle cx="784" cy="1339.75" r="9.3" fill="#fff" stroke="#41438f" stroke-width="2"/>
<polyline points="529.6,1196 593.1,1236 656.6,1233 720.2,1226.25 784,1226.25" fill="none" stroke="#000" stroke-width="1.9"/>
<line x1="529.6" y1="1143" x2="529.6" y2="1249" stroke="#000" stroke-width="2.2"/>
<line x1="593.1" y1="1216.75" x2="593.1" y2="1249.5" stroke="#000" stroke-width="2.2"/>
<line x1="656.6" y1="1219.25" x2="656.6" y2="1247" stroke="#000" stroke-width="2.2"/>
<line x1="720.2" y1="1204.25" x2="720.2" y2="1249" stroke="#000" stroke-width="2.2"/>
<line x1="784" y1="1214.75" x2="784" y2="1238" stroke="#000" stroke-width="2.2"/>
<circle cx="529.6" cy="1196" r="9.3" fill="#b8b8b8" stroke="#000" stroke-width="2"/>
<circle cx="593.1" cy="1236" r="9.3" fill="#b8b8b8" stroke="#000" stroke-width="2"/>
<circle cx="656.6" cy="1233" r="9.3" fill="#b8b8b8" stroke="#000" stroke-width="2"/>
<circle cx="720.2" cy="1226.25" r="9.3" fill="#b8b8b8" stroke="#000" stroke-width="2"/>
<circle cx="784" cy="1226.25" r="9.3" fill="#b8b8b8" stroke="#000" stroke-width="2"/>
<polyline points="529.6,1283 593.1,1308 656.6,1313 720.2,1317.5 784,1299.75" fill="none" stroke="#000" stroke-width="1.9"/>
<line x1="529.6" y1="1270" x2="529.6" y2="1310.5" stroke="#000" stroke-width="2.2"/>
<line x1="593.1" y1="1297" x2="593.1" y2="1326.75" stroke="#000" stroke-width="2.2"/>
<line x1="656.6" y1="1303" x2="656.6" y2="1325" stroke="#000" stroke-width="2.2"/>
<line x1="720.2" y1="1305" x2="720.2" y2="1330" stroke="#000" stroke-width="2.2"/>
<line x1="784" y1="1275.5" x2="784" y2="1324" stroke="#000" stroke-width="2.2"/>
<circle cx="529.6" cy="1283" r="9.3" fill="#fff" stroke="#c2c2c2" stroke-width="2"/>
<circle cx="593.1" cy="1308" r="9.3" fill="#fff" stroke="#c2c2c2" stroke-width="2"/>
<circle cx="656.6" cy="1313" r="9.3" fill="#fff" stroke="#c2c2c2" stroke-width="2"/>
<circle cx="720.2" cy="1317.5" r="9.3" fill="#fff" stroke="#c2c2c2" stroke-width="2"/>
<circle cx="784" cy="1299.75" r="9.3" fill="#fff" stroke="#c2c2c2" stroke-width="2"/>
<line x1="720.2" y1="1345.5" x2="720.2" y2="1353.8" stroke="#fff" stroke-width="0.8"/>
<circle cx="534.3" cy="930.8" r="9.3" fill="#4649a8" stroke="#000" stroke-width="2"/>
<text x="554.3" y="939">re-exp infusions (4)</text>
<circle cx="534.3" cy="964.75" r="9.3" fill="#fff" stroke="#41438f" stroke-width="2"/>
<text x="554.3" y="974">re-exp inactive (4)</text>
<circle cx="533" cy="1000.7" r="9.3" fill="#b8b8b8" stroke="#000" stroke-width="2"/>
<text x="553.2" y="1009.6">45 w/d infusions (5)</text>
<circle cx="533" cy="1038" r="9.3" fill="#fff" stroke="#c2c2c2" stroke-width="2"/>
<text x="553.2" y="1046.6">45 w/d inactive (5)</text>
<text x="642.8" y="1421.75" text-anchor="middle">training day</text>
<text x="642.8" y="1463" text-anchor="middle">(2hr session)</text>
<text text-anchor="middle" transform="translate(884.4 1116.5) rotate(-90)">active nose pokes</text>
<path d="M960.8 897.8 V1356.4 H1098.75" fill="none" stroke="#000" stroke-width="2.4" stroke-linejoin="miter"/>
<line x1="960.8" y1="1356.4" x2="968.4" y2="1356.4" stroke="#000" stroke-width="2.4"/>
<text x="950.1" y="1367.54" text-anchor="end" font-size="32.5">0</text>
<line x1="960.8" y1="1264.92" x2="968.4" y2="1264.92" stroke="#000" stroke-width="2.4"/>
<text x="950.1" y="1276.06" text-anchor="end" font-size="32.5">10</text>
<line x1="960.8" y1="1173.44" x2="968.4" y2="1173.44" stroke="#000" stroke-width="2.4"/>
<text x="950.1" y="1184.58" text-anchor="end" font-size="32.5">20</text>
<line x1="960.8" y1="1081.96" x2="968.4" y2="1081.96" stroke="#000" stroke-width="2.4"/>
<text x="950.1" y="1093.1" text-anchor="end" font-size="32.5">30</text>
<line x1="960.8" y1="990.48" x2="968.4" y2="990.48" stroke="#000" stroke-width="2.4"/>
<text x="950.1" y="1001.62" text-anchor="end" font-size="32.5">40</text>
<line x1="960.8" y1="899" x2="968.4" y2="899" stroke="#000" stroke-width="2.4"/>
<text x="950.1" y="910.13" text-anchor="end" font-size="32.5">50</text>
<line x1="1026.75" y1="1356.4" x2="1026.75" y2="1348.8" stroke="#000" stroke-width="2.4"/>
<text x="1026.6" y="1386.75" text-anchor="middle" font-size="32.5">40-45</text>
<line x1="1026.75" y1="1136.25" x2="1026.75" y2="1203.5" stroke="#000" stroke-width="1.9"/>
<circle cx="1026.75" cy="1170" r="8.8" fill="#4649a8" stroke="#000" stroke-width="1.3"/>
<text x="1031.1" y="1422.5" text-anchor="middle">withdrawal day</text>
<text x="1031.1" y="1462.25" text-anchor="middle">(10min re-exposure)</text>
</svg>
</body>
</html>
